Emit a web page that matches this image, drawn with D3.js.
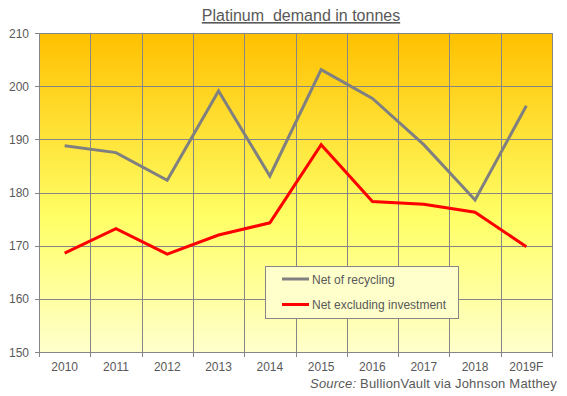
<!DOCTYPE html>
<html>
<head>
<meta charset="utf-8">
<title>Platinum demand in tonnes</title>
<script src="https://cdn.jsdelivr.net/npm/d3@7"></script>
<style>
  body { margin: 0; background: #fff; }
  svg text { font-family: "Liberation Sans", Arial, sans-serif; fill: #595959; }
</style>
</head>
<body>
<svg id="chart" width="567" height="396"></svg>
<script>
// data
var years = ["2010", "2011", "2012", "2013", "2014", "2015", "2016", "2017", "2018", "2019F"];
var netRecycling = [188.8, 187.5, 182.3, 199.1, 183.1, 203.1, 197.7, 189.0, 178.6, 196.3];
var netExInvestment = [168.6, 173.2, 168.4, 172.0, 174.3, 189.0, 178.3, 177.8, 176.3, 169.8];
var yTicks = [150, 160, 170, 180, 190, 200, 210];
var seriesNames = ["Net of recycling", "Net excluding investment"];
var seriesColors = ["#808080", "#ff0000"];

var svg = d3.select("#chart");
var plotL = 39, plotR = 552, plotT = 33, plotB = 352;

var x = d3.scaleBand().domain(years).range([plotL, plotR]);
var y = d3.scaleLinear().domain([150, 210]).range([plotB, plotT]);

// background gradient
var grad = svg.append("defs").append("linearGradient")
    .attr("id", "bg").attr("x1", 0).attr("y1", 0).attr("x2", 0).attr("y2", 1);
grad.append("stop").attr("offset", "0%").attr("stop-color", "#ffc000");
grad.append("stop").attr("offset", "58%").attr("stop-color", "#ffff66");
grad.append("stop").attr("offset", "100%").attr("stop-color", "#ffffcc");

svg.append("rect")
    .attr("x", plotL).attr("y", plotT)
    .attr("width", plotR - plotL).attr("height", plotB - plotT)
    .attr("fill", "url(#bg)");

// grid
svg.append("g").selectAll("line").data(yTicks).enter().append("line")
    .attr("x1", plotL - 4).attr("x2", plotR)
    .attr("y1", function(d) { return Math.round(y(d)) + 0.5; })
    .attr("y2", function(d) { return Math.round(y(d)) + 0.5; })
    .attr("stroke", "#868686");

var bounds = years.map(function(d) { return x(d); }).concat([plotR]);
svg.append("g").selectAll("line").data(bounds).enter().append("line")
    .attr("x1", function(d) { return Math.round(d) + 0.5; })
    .attr("x2", function(d) { return Math.round(d) + 0.5; })
    .attr("y1", plotT).attr("y2", plotB + 5)
    .attr("stroke", "#868686");

// axis labels
svg.append("g").selectAll("text").data(yTicks).enter().append("text")
    .attr("x", 29).attr("y", function(d) { return y(d) + 4.5; })
    .attr("text-anchor", "end").attr("font-size", "12px")
    .text(function(d) { return d; });

svg.append("g").selectAll("text").data(years).enter().append("text")
    .attr("x", function(d) { return x(d) + x.bandwidth() / 2; })
    .attr("y", 371).attr("text-anchor", "middle").attr("font-size", "12px")
    .text(function(d) { return d; });

// lines
var line = d3.line()
    .x(function(d, i) { return x(years[i]) + x.bandwidth() / 2; })
    .y(function(d) { return y(d); });

[netRecycling, netExInvestment].forEach(function(s, i) {
  svg.append("path").datum(s)
      .attr("d", line)
      .attr("fill", "none")
      .attr("stroke", seriesColors[i])
      .attr("stroke-width", 3)
      .attr("stroke-linejoin", "miter");
});

// legend
var lg = svg.append("g");
lg.append("rect")
    .attr("x", 265.5).attr("y", 266.5).attr("width", 193).attr("height", 52)
    .attr("fill", "#ffffcc").attr("stroke", "#868686");
seriesNames.forEach(function(n, i) {
  var yy = 279 + i * 25.5;
  lg.append("line").attr("x1", 282).attr("x2", 309).attr("y1", yy).attr("y2", yy)
      .attr("stroke", seriesColors[i]).attr("stroke-width", 3);
  lg.append("text").attr("x", 312).attr("y", yy + 4.5).attr("font-size", "12px").text(n);
});

// title
svg.append("text")
    .attr("x", 301).attr("y", 21).attr("text-anchor", "middle")
    .attr("font-size", "16px").attr("text-decoration", "underline")
    .style("white-space", "pre")
    .text("Platinum  demand in tonnes");

// source
var src = svg.append("text")
    .attr("x", 557).attr("y", 388).attr("text-anchor", "end")
    .attr("font-size", "13px").attr("letter-spacing", "0.2px");
src.append("tspan").attr("font-style", "italic").text("Source:");
src.append("tspan").text(" BullionVault via Johnson Matthey");
</script>
</body>
</html>
